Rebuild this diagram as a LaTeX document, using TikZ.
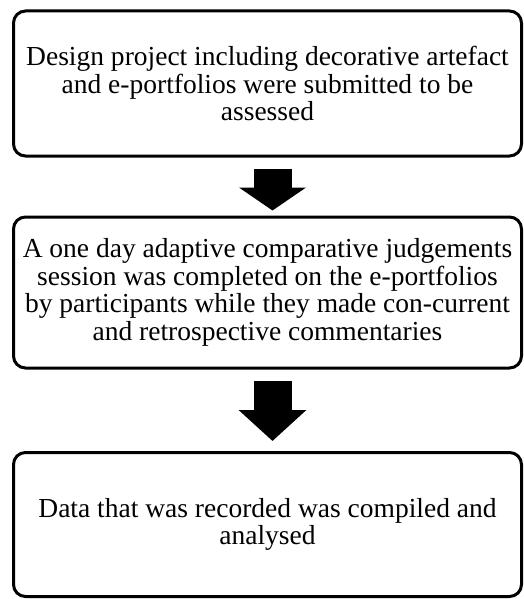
\documentclass[tikz,border=0pt]{standalone}
\usepackage{fontspec}
\setmainfont{Liberation Serif}
\usetikzlibrary{arrows.meta}

\begin{document}
\begin{tikzpicture}[x=1pt,y=-1pt]
	\tikzstyle{every node}=[font=\fontsize{27.5}{27.5}\selectfont];
	\tikzstyle{stage}=[draw, line width=3pt, rounded corners=12pt, minimum width=508pt, align=center, inner sep=0pt];
	\tikzset{down/.style={line width=38pt, -{Triangle[width=66pt,length=#1]}}}

	\useasboundingbox (0,0) rectangle (524,599);

	%Stage 1
	\node[stage, minimum height=145pt] (s1) at (267.5,83.5) {Design project including decorative artefact\\ and e-portfolios were submitted to be\\ assessed};

	%Stage 2
	\node[stage, minimum height=151pt] (s2) at (267.5,292.5) {A one day adaptive comparative judgements\\ session was completed on the e-portfolios\\ by participants while they made con-current\\ and retrospective commentaries};

	%Stage 3
	\node[stage, minimum height=144pt] (s3) at (267.5,524.5) {Data that was recorded was compiled and\\ analysed};

	%Arrows
	\draw[down=23pt, shorten <=11pt, shorten >=5pt] ([xshift=5pt]s1.south) -- ([xshift=5pt]s2.north);
	\draw[down=31pt, shorten <=11pt, shorten >=10pt] ([xshift=5pt]s2.south) -- ([xshift=5pt]s3.north);

\end{tikzpicture}
\end{document}
